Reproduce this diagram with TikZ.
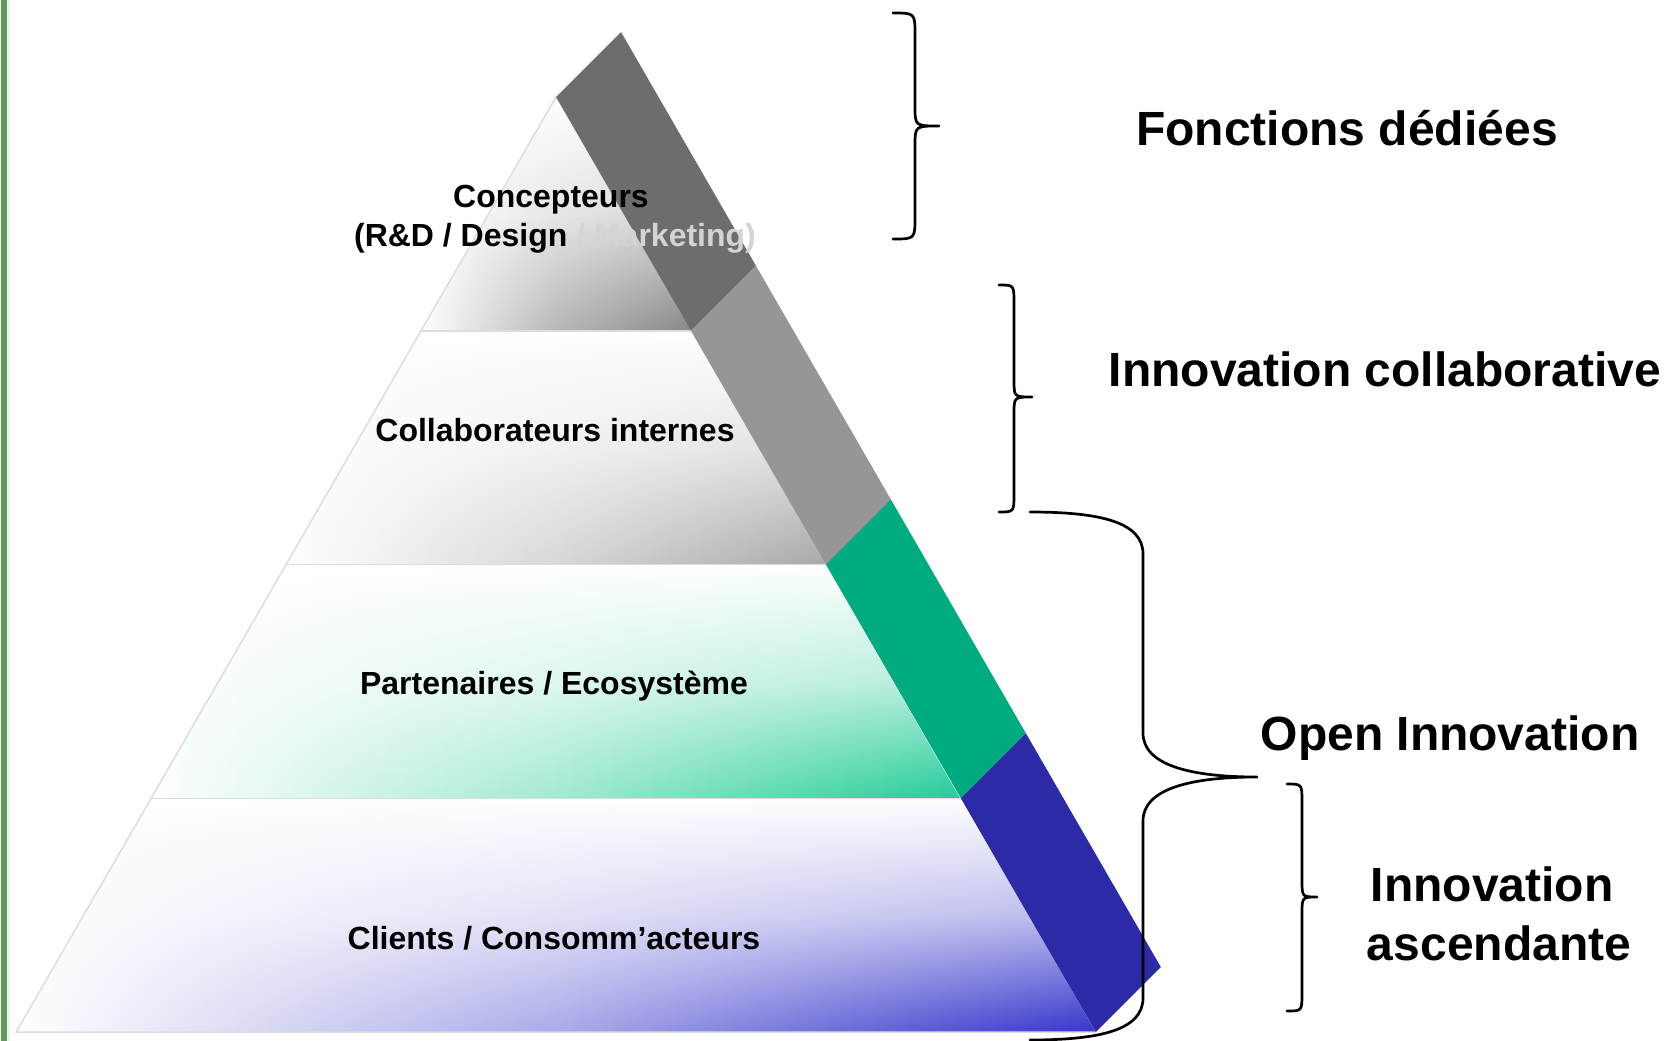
\documentclass[tikz,border=0pt]{standalone}
\usepackage{fontspec}
\setmainfont{Liberation Sans}
\usetikzlibrary{fadings}
\definecolor{bandA}{HTML}{6D6D6D}
\definecolor{bandB}{HTML}{969696}
\definecolor{bandC}{HTML}{00AB80}
\definecolor{bandD}{HTML}{2C2AA6}
\definecolor{tierA}{HTML}{888888}
\definecolor{tierB}{HTML}{A8A8A8}
\definecolor{tierC}{HTML}{22CC98}
\definecolor{tierD}{HTML}{3535CC}
\definecolor{sepline}{HTML}{DDDDDD}
\definecolor{leftbar}{HTML}{5B9A5B}
\definecolor{mkt}{HTML}{D4D4D4}
\tikzfading[name=tierfade, top color=transparent!100, bottom color=transparent!0, middle color=transparent!66]
\tikzset{
  lbl/.style={font=\fontsize{32}{39}\selectfont\bfseries, inner sep=0pt, anchor=base},
  big/.style={font=\fontsize{48}{58}\selectfont\bfseries, inner sep=0pt, anchor=base},
  tier/.style={path fading=tierfade, fit fading=true},
  sep/.style={draw=sepline, line width=1.5pt},
  bracestyle/.style={draw=black, line width=2.7pt, line cap=round, line join=round}
}
\begin{document}
\begin{tikzpicture}[x=1pt,y=-1pt]
\useasboundingbox (0,0) rectangle (1674,1041);
\fill[white] (0,0) rectangle (1674,1041);
% left bar
\fill[leftbar] (1,0) rectangle (7,1041);
\fill[leftbar!12] (7,0) rectangle (10,1041);
% tiers
\shade[tier, left color=white, right color=tierA, middle color=tierA!60!white]
  (556,97) -- (690.95,330.75) -- (421.05,330.75) -- cycle;
\shade[tier, left color=white, right color=tierB, middle color=tierB!45!white]
  (421.05,330.75) -- (690.95,330.75) -- (825.9,564.5) -- (286.1,564.5) -- cycle;
\shade[tier, left color=white, right color=tierC, middle color=tierC!42!white]
  (286.1,564.5) -- (825.9,564.5) -- (960.85,798.25) -- (151.15,798.25) -- cycle;
\shade[tier, left color=white, right color=tierD, middle color=tierD!42!white]
  (151.15,798.25) -- (960.85,798.25) -- (1095.8,1032) -- (16.2,1032) -- cycle;
% separators
\draw[sep] (421.05,330.75) -- (690.95,330.75);
\draw[sep] (286.1,564.5) -- (825.9,564.5);
\draw[sep] (151.15,798.25) -- (960.85,798.25);
\draw[sep] (556,97) -- (16.2,1032) -- (1095.8,1032);
% band
\fill[bandA] (556,97) -- (690.95,330.75) -- (755.95,265.75) -- (621,32) -- cycle;
\fill[bandB] (690.95,330.75) -- (825.9,564.5) -- (890.9,499.5) -- (755.95,265.75) -- cycle;
\fill[bandC] (825.9,564.5) -- (960.85,798.25) -- (1025.85,733.25) -- (890.9,499.5) -- cycle;
\fill[bandD] (960.85,798.25) -- (1095.8,1032) -- (1160.8,967) -- (1025.85,733.25) -- cycle;
% pyramid labels
\node[lbl] (conc1) at (551,207) {Concepteurs};
\node[lbl] (conc2) at (555,246) {(R\&D / Design \textcolor{mkt}{/ Marketing)}};
\node[lbl] (collab) at (555,441) {Collaborateurs internes};
\node[lbl] (part) at (554,694) {Partenaires / Ecosystème};
\node[lbl] (clients) at (554,949) {Clients / Consomm’acteurs};
% braces
\draw[bracestyle] (893,13) .. controls (915,13) .. (915,35) -- (915,106)
  .. controls (915,126) .. (939,126) .. controls (915,126) .. (915,146)
  -- (915,217) .. controls (915,239) .. (893,239);
\draw[bracestyle] (999,285) .. controls (1014,285) .. (1014,303) -- (1014,380)
  .. controls (1014,397) .. (1032,397) .. controls (1014,397) .. (1014,414)
  -- (1014,494) .. controls (1014,512) .. (999,512);
\draw[bracestyle] (1030,512) .. controls (1100,512) and (1143,522) .. (1143,554)
  -- (1143,733) .. controls (1143,765) and (1190,777) .. (1257,777)
  .. controls (1190,777) and (1143,789) .. (1143,821)
  -- (1143,998) .. controls (1143,1030) and (1100,1040) .. (1030,1040);
\draw[bracestyle] (1287,784) .. controls (1302,784) .. (1302,802) -- (1302,880)
  .. controls (1302,897) .. (1317,897) .. controls (1302,897) .. (1302,914)
  -- (1302,993) .. controls (1302,1011) .. (1287,1011);
% right labels
\node[big] (fd) at (1347,145) {Fonctions dédiées};
\node[big] (ic) at (1385,386) {Innovation collaborative};
\node[big] (oi) at (1450,750) {Open Innovation};
\node[big] (ia1) at (1492,901) {Innovation};
\node[big] (ia2) at (1499,960) {ascendante};
\end{tikzpicture}
\end{document}
